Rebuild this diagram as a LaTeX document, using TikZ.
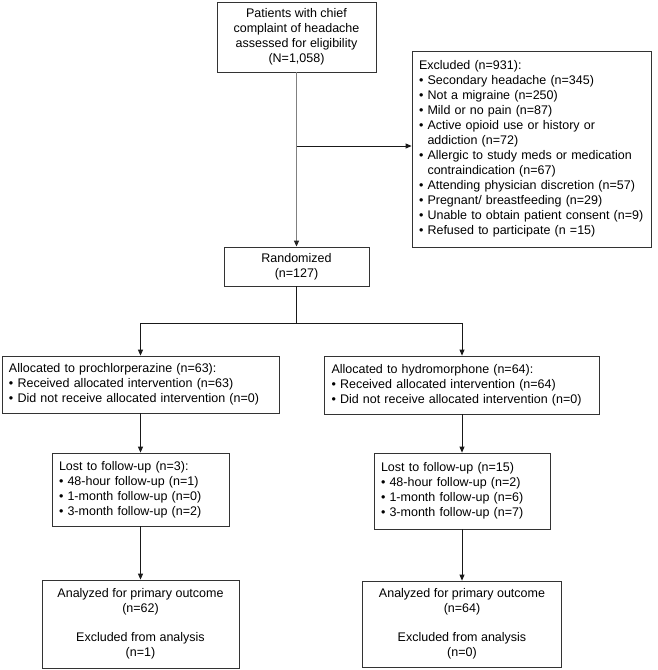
\documentclass[tikz,border=0pt]{standalone}
\usepackage{fontspec}
\setmainfont{Liberation Sans}
\usetikzlibrary{arrows.meta}

\newcommand{\bitem}{\textbullet\ }
\newcommand{\bindent}{\hphantom{\textbullet\ }}

\tikzset{
  box/.style={draw=black!80, line width=0.8pt, inner sep=0pt, align=center,
    font=\fontsize{12.5}{15}\selectfont},
  listbox/.style={box, align=left, inner xsep=7pt},
  link/.style={->, draw=black!90, line width=0.8pt},
}

\begin{document}
\begin{tikzpicture}[x=1pt, y=-1pt, >={Triangle[length=6pt,width=5pt]}]
    \useasboundingbox (0,0) rectangle (658,670);

    % Riquadri
    \node[box, minimum width=159pt, minimum height=70pt] (assess) at (296.5,37)
        {Patients with chief\\complaint of headache\\assessed for eligibility\\(N=1,058)};
    \node[listbox, text width=225pt, minimum height=196pt] (excl) at (531.5,149)
        {Excluded (n=931):\\
         \bitem Secondary headache (n=345)\\
         \bitem Not a migraine (n=250)\\
         \bitem Mild or no pain (n=87)\\
         \bitem Active opioid use or history or\\
         \bindent addiction (n=72)\\
         \bitem Allergic to study meds or medication\\
         \bindent contraindication (n=67)\\
         \bitem Attending physician discretion (n=57)\\
         \bitem Pregnant/ breastfeeding (n=29)\\
         \bitem Unable to obtain patient consent (n=9)\\
         \bitem Refused to participate (n =15)};
    \node[box, minimum width=145pt, minimum height=39pt] (rand) at (296.5,266.5)
        {Randomized\\(n=127)};

    % Bracci
    \node[listbox, text width=263pt, minimum height=57pt] (prochl) at (140.5,384.5)
        {Allocated to prochlorperazine (n=63):\\
         \bitem Received allocated intervention (n=63)\\
         \bitem Did not receive allocated intervention (n=0)};
    \node[listbox, text width=261pt, minimum height=58pt] (hydro) at (462,385)
        {Allocated to hydromorphone (n=64):\\
         \bitem Received allocated intervention (n=64)\\
         \bitem Did not receive allocated intervention (n=0)};

    \node[listbox, text width=163pt, minimum height=73pt] (lostP) at (140.5,489.5)
        {Lost to follow-up (n=3):\\
         \bitem 48-hour follow-up (n=1)\\
         \bitem 1-month follow-up (n=0)\\
         \bitem 3-month follow-up (n=2)};
    \node[listbox, text width=162pt, minimum height=76pt] (lostH) at (462,491)
        {Lost to follow-up (n=15)\\
         \bitem 48-hour follow-up (n=2)\\
         \bitem 1-month follow-up (n=6)\\
         \bitem 3-month follow-up (n=7)};

    \node[box, minimum width=197pt, minimum height=88pt] (anaP) at (140.5,624)
        {Analyzed for primary outcome\\(n=62)\\[14pt]Excluded from analysis\\(n=1)};
    \node[box, minimum width=199pt, minimum height=86pt] (anaH) at (462,624)
        {Analyzed for primary outcome\\(n=64)\\[14pt]Excluded from analysis\\(n=0)};

    % Frecce
    \coordinate (branch) at (296.5,146);
    \coordinate (split) at (296.5,323);
    \draw[black!50, line width=1.4pt, -{Triangle[length=6pt,width=5pt,color=black!85]}]
        (assess) -- (rand);
    \draw[link] (branch) -- (branch -| excl.west);
    \draw[black!90, line width=0.8pt] (rand) -- (split);
    \draw[link] (split) -| (prochl);
    \draw[link] (split) -| (hydro);
    \draw[link] (prochl) -- (lostP);
    \draw[link] (hydro) -- (lostH);
    \draw[link] (lostP) -- (anaP);
    \draw[link] (lostH) -- (anaH);
\end{tikzpicture}
\end{document}
